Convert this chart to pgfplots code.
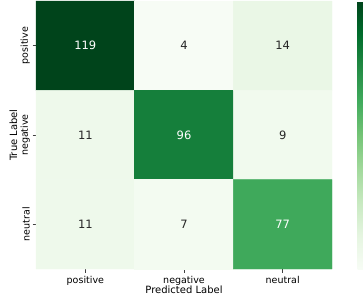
\documentclass[border=0pt]{standalone}
\usepackage{fontspec}
\setmainfont{DejaVu Sans}
\usepackage{pgfplots}
\pgfplotsset{compat=1.18}
\definecolor{darktext}{RGB}{38,38,38}
\begin{document}
\begin{tikzpicture}
\begin{axis}[
  at={(36pt,32pt)}, anchor=south west,
  scale only axis, width=296pt, height=268pt,
  xmin=-0.5, xmax=2.5, ymin=-0.5, ymax=2.5,
  y dir=reverse,
  colormap={greens}{rgb255=(247,252,245) rgb255=(229,245,224) rgb255=(199,233,192) rgb255=(161,217,155) rgb255=(116,196,118) rgb255=(65,171,93) rgb255=(35,139,69) rgb255=(0,109,44) rgb255=(0,68,27)},
  point meta min=4, point meta max=119,
  colorbar,
  colorbar style={at={(parent axis.north east)}, anchor=north west, xshift=17pt,
    scale only axis, width=15pt, height=268pt, axis line style={draw=none},
    ytick=\empty},
  axis line style={draw=none},
  xtick={0,1,2}, ytick={0,1,2},
  xticklabels={positive,negative,neutral},
  yticklabels={positive,negative,neutral},
  tick pos=left, tick align=outside,
  major tick length=3.5pt,
  tick style={black!75, line width=0.6pt},
  ticklabel style={font=\fontsize{9.5}{11}\selectfont, text=black},
  yticklabel style={xshift=0.8pt, rotate=90, anchor=south},
  xlabel={Predicted Label}, ylabel={True Label},
  label style={font=\fontsize{9.5}{11}\selectfont, text=black},
  every axis y label/.style={at={(axis description cs:0,0.5)}, xshift=-22.5pt, rotate=90, anchor=center},
  every axis x label/.style={at={(axis description cs:0.5,0)}, yshift=-21pt, anchor=center},
  clip=false,
]
\addplot[matrix plot*, point meta=explicit, mesh/cols=3] coordinates {
  (0,0) [119] (1,0) [4] (2,0) [14]
  (0,1) [11] (1,1) [96] (2,1) [9]
  (0,2) [11] (1,2) [7] (2,2) [77]
};
\addplot[only marks, mark=*, mark size=0pt, mark options={draw=none, fill=none},
  point meta=explicit symbolic, nodes near coords,
  nodes near coords style={anchor=center, text=white, font=\fontsize{11.5}{13}\selectfont}]
  coordinates {(0,0) [119] (1,1) [96] (2,2) [77]};
\addplot[only marks, mark=*, mark size=0pt, mark options={draw=none, fill=none},
  point meta=explicit symbolic, nodes near coords,
  nodes near coords style={anchor=center, text=darktext, font=\fontsize{11.5}{13}\selectfont}]
  coordinates {(1,0) [4] (2,0) [14] (0,1) [11] (2,1) [9] (0,2) [11] (1,2) [7]};
\end{axis}
\pgfresetboundingbox
\path (0,0) rectangle (363pt,301pt);
\end{tikzpicture}
\end{document}
